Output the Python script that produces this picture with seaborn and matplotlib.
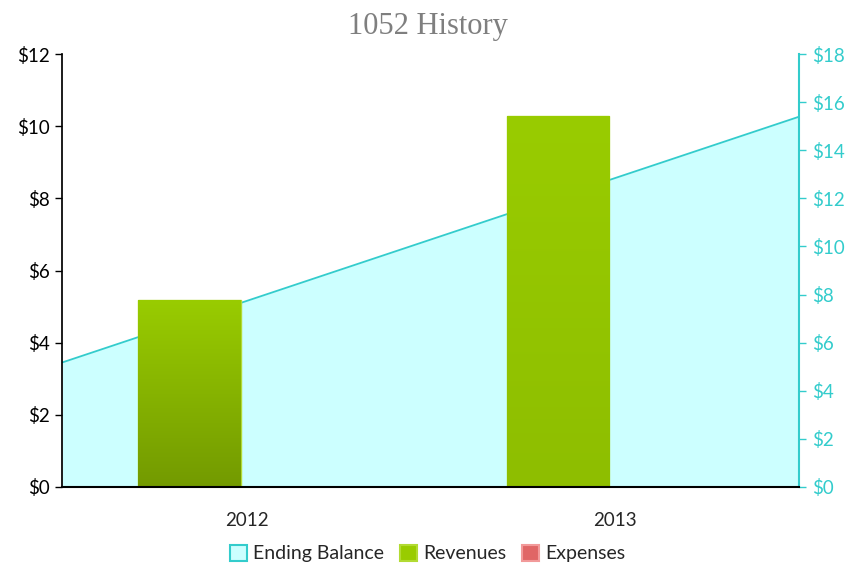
import numpy as np
import pandas as pd
import matplotlib
matplotlib.use("Agg")
import matplotlib.pyplot as plt
from matplotlib.colors import LinearSegmentedColormap
from matplotlib.patches import Patch
import seaborn as sns

# data
years = ["2012", "2013"]
revenues = [5.18, 10.28]
expenses = [0.0, 0.0]
ending_balance = [5.18, 15.4]

sns.set_theme(style="white")
plt.rcParams["font.family"] = ["Lato", "DejaVu Sans"]

df = pd.DataFrame({
    "year": years * 2,
    "value": revenues + expenses,
    "series": ["Revenues"] * 2 + ["Expenses"] * 2,
})

fig, ax = plt.subplots(figsize=(8.55, 5.63), dpi=100)
ax2 = ax.twinx()

# ending balance area on the secondary axis (edge to edge)
xs = [-0.5, 1.5]
ax2.fill_between(xs, ending_balance, 0, color="#CCFFFF", linewidth=0)
ax2.plot(xs, ending_balance, color="#33CCCC", linewidth=1.3)
ax2.set_ylim(0, 18)
ax2.set_yticks(np.arange(0, 19, 2))
ax2.set_yticklabels([f"${v}" for v in range(0, 19, 2)])

sns.barplot(data=df, x="year", y="value", hue="series", ax=ax,
            palette={"Revenues": "#99CC00", "Expenses": "#E06666"},
            width=0.62, gap=0.1, legend=False, linewidth=1,
            edgecolor="#B2DB33")
ax.set_zorder(ax2.get_zorder() + 1)
ax.patch.set_visible(False)

# vertical gradients on the revenue bars
grads = [("#99CC00", "#739A00"), ("#99CC00", "#8EBE00")]
for patch, (top, bot) in zip(ax.patches[:2], grads):
    x0, y0 = patch.get_x(), patch.get_y()
    w, h = patch.get_width(), patch.get_height()
    cmap = LinearSegmentedColormap.from_list("g", [bot, top])
    img = ax.imshow(np.linspace(0, 1, 256).reshape(-1, 1), cmap=cmap,
                    extent=[x0, x0 + w, y0, y0 + h], origin="lower",
                    aspect="auto", zorder=patch.get_zorder())
    img.set_clip_path(patch)

ax.set_xlim(-0.5, 1.5)
ax.set_ylim(0, 12)
ax.set_yticks(np.arange(0, 13, 2))
ax.set_yticklabels([f"${v}" for v in range(0, 13, 2)])
ax.set_xlabel("")
ax.set_ylabel("")

for a in (ax, ax2):
    a.spines["top"].set_visible(False)
ax.spines["left"].set_color("black")
ax.spines["bottom"].set_color("black")
ax.spines["bottom"].set_linewidth(1.5)
ax.spines["right"].set_visible(False)
ax2.spines["left"].set_visible(False)
ax2.spines["bottom"].set_visible(False)
ax2.spines["right"].set_color("#33CCCC")
ax2.spines["right"].set_linewidth(1.5)

ax.tick_params(axis="y", left=True, length=5, width=1, color="black",
               labelsize=13.5, labelcolor="black", pad=4)
ax.tick_params(axis="x", bottom=False, labelsize=13.5, pad=12)
ax2.tick_params(axis="y", right=True, length=5, width=1, color="#33CCCC",
                labelsize=13.5, labelcolor="#33CCCC", pad=4)

fig.suptitle("1052 History", family=["Liberation Serif", "DejaVu Serif"],
             fontsize=22, color="#7F7F7F", y=0.978)

handles = [
    Patch(facecolor="#CCFFFF", edgecolor="#33CCCC", linewidth=1.5, label="Ending Balance"),
    Patch(facecolor="#99CC00", edgecolor="#B2DB33", linewidth=1.5, label="Revenues"),
    Patch(facecolor="#E06666", edgecolor="#F29A9A", linewidth=1.5, label="Expenses"),
]
fig.legend(handles=handles, loc="lower center", ncol=3, frameon=False,
           fontsize=14, handlelength=0.9, handleheight=0.9,
           handletextpad=0.3, columnspacing=0.8, bbox_to_anchor=(0.5, -0.03))

fig.subplots_adjust(left=0.073, right=0.935, top=0.904, bottom=0.135)
fig.savefig("out.png", dpi=100)
